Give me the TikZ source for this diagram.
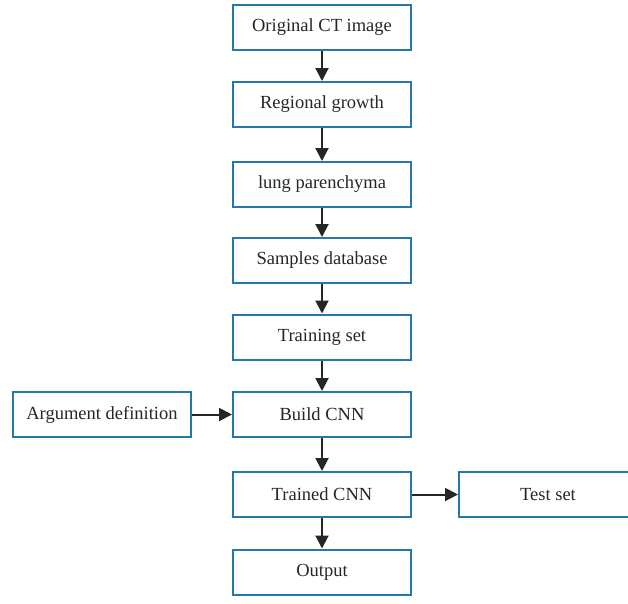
\documentclass[tikz,border=0pt]{standalone}
\usepackage{fontspec}
\setmainfont{Liberation Serif}
\usetikzlibrary{arrows.meta}
\definecolor{boxblue}{RGB}{36,121,168}
\begin{document}
\begin{tikzpicture}[x=1pt,y=-1pt,
  box/.style={draw=boxblue, line width=2pt, minimum width=178pt, minimum height=45pt, inner sep=0pt, font=\fontsize{18.5}{20}\selectfont, text=black!85},
  arr/.style={-{Triangle[width=13pt,length=13pt]}, line width=2pt, black!85}]
\useasboundingbox (0,0) rectangle (628,603);
\node[box] (a) at (322,27) {Original CT image};
\node[box] (b) at (322,104.5) {Regional growth};
\node[box] (c) at (322,184.5) {lung parenchyma};
\node[box] (d) at (322,260.5) {Samples database};
\node[box] (e) at (322,337) {Training set};
\node[box] (f) at (322,414.5) {Build CNN};
\node[box] (g) at (322,494.5) {Trained CNN};
\node[box] (h) at (322,572) {Output};
\node[box] (arg) at (102,414.5) {Argument definition};
\node[box] (t) at (548,494.5) {Test set};
\draw[arr] (a) -- (b);
\draw[arr] (b) -- (c);
\draw[arr] (c) -- (d);
\draw[arr] (d) -- (e);
\draw[arr] (e) -- (f);
\draw[arr] (f) -- (g);
\draw[arr] (g) -- (h);
\draw[arr] (arg) -- (f);
\draw[arr] (g) -- (t);
\end{tikzpicture}
\end{document}
